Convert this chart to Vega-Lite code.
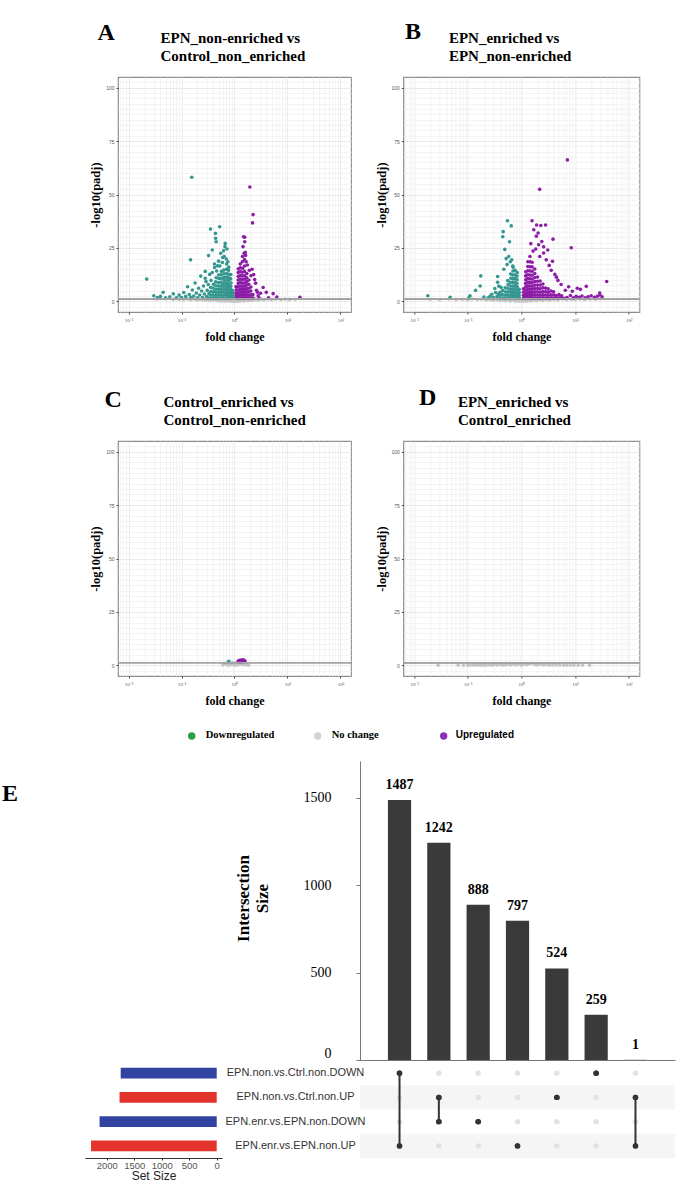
{
"$schema":"https://vega.github.io/schema/vega-lite/v6.json",
"background":"white",
"padding":{"left":2,"top":18,"right":5,"bottom":5},
"config":{"view":{"stroke":null},"font":"Liberation Sans"},
"datasets":{
"A":[
{"fc":0.035,"y":1.1,"g":"N"},{"fc":0.05,"y":1.2,"g":"N"},{"fc":0.07,"y":0.9,"g":"N"},{"fc":0.09,"y":1.0,"g":"N"},{"fc":0.11,"y":0.8,"g":"N"},{"fc":0.13,"y":1.1,"g":"N"},{"fc":0.15,"y":0.7,"g":"N"},{"fc":0.18,"y":0.9,"g":"N"},{"fc":0.2,"y":0.6,"g":"N"},{"fc":0.22,"y":1.0,"g":"N"},{"fc":0.25,"y":0.7,"g":"N"},{"fc":0.28,"y":0.5,"g":"N"},{"fc":0.3,"y":0.9,"g":"N"},{"fc":0.33,"y":0.6,"g":"N"},{"fc":0.36,"y":0.4,"g":"N"},{"fc":0.4,"y":0.8,"g":"N"},{"fc":0.44,"y":0.5,"g":"N"},{"fc":0.48,"y":0.3,"g":"N"},{"fc":0.52,"y":0.7,"g":"N"},{"fc":0.56,"y":0.2,"g":"N"},{"fc":0.6,"y":0.5,"g":"N"},{"fc":0.65,"y":0.1,"g":"N"},{"fc":0.7,"y":0.4,"g":"N"},{"fc":0.75,"y":0.2,"g":"N"},{"fc":0.8,"y":0.6,"g":"N"},{"fc":0.85,"y":0.1,"g":"N"},{"fc":0.9,"y":0.3,"g":"N"},{"fc":0.95,"y":0.05,"g":"N"},{"fc":1.0,"y":0.2,"g":"N"},{"fc":1.05,"y":0.1,"g":"N"},{"fc":1.1,"y":0.4,"g":"N"},{"fc":1.15,"y":0.05,"g":"N"},{"fc":1.2,"y":0.3,"g":"N"},{"fc":1.3,"y":0.15,"g":"N"},{"fc":1.4,"y":0.5,"g":"N"},{"fc":1.5,"y":0.2,"g":"N"},{"fc":1.65,"y":0.6,"g":"N"},{"fc":1.8,"y":0.3,"g":"N"},{"fc":2.0,"y":0.7,"g":"N"},{"fc":2.2,"y":0.4,"g":"N"},{"fc":2.5,"y":0.9,"g":"N"},{"fc":2.8,"y":0.5,"g":"N"},{"fc":3.2,"y":1.0,"g":"N"},{"fc":3.6,"y":0.6,"g":"N"},{"fc":4.2,"y":1.1,"g":"N"},{"fc":5,"y":0.7,"g":"N"},{"fc":6,"y":1.0,"g":"N"},{"fc":7.5,"y":0.8,"g":"N"},{"fc":9,"y":1.1,"g":"N"},{"fc":11,"y":0.9,"g":"N"},{"fc":14,"y":1.0,"g":"N"},{"fc":0.62,"y":0.9,"g":"N"},{"fc":0.72,"y":0.8,"g":"N"},{"fc":0.82,"y":1.0,"g":"N"},{"fc":0.92,"y":0.7,"g":"N"},{"fc":1.08,"y":0.8,"g":"N"},{"fc":1.25,"y":1.0,"g":"N"},{"fc":1.35,"y":0.9,"g":"N"},{"fc":0.5,"y":1.1,"g":"N"},{"fc":0.42,"y":1.2,"g":"N"},{"fc":1.6,"y":1.1,"g":"N"},{"fc":0.26,"y":1.2,"g":"N"},{"fc":0.16,"y":1.2,"g":"N"},
{"fc":0.94,"y":1.5,"g":"D"},{"fc":0.925,"y":2.5,"g":"D"},{"fc":0.935,"y":3.6,"g":"D"},{"fc":0.92,"y":5,"g":"D"},
{"fc":0.85,"y":1.6,"g":"D"},{"fc":0.86,"y":2.8,"g":"D"},{"fc":0.842,"y":4.1,"g":"D"},{"fc":0.855,"y":5.5,"g":"D"},{"fc":0.848,"y":7,"g":"D"},{"fc":0.862,"y":8.6,"g":"D"},{"fc":0.845,"y":10.5,"g":"D"},{"fc":0.852,"y":12.5,"g":"D"},
{"fc":0.78,"y":1.4,"g":"D"},{"fc":0.77,"y":2.6,"g":"D"},{"fc":0.783,"y":3.9,"g":"D"},{"fc":0.772,"y":5.2,"g":"D"},{"fc":0.779,"y":6.6,"g":"D"},{"fc":0.768,"y":8,"g":"D"},{"fc":0.781,"y":9.5,"g":"D"},{"fc":0.774,"y":11,"g":"D"},{"fc":0.786,"y":12.7,"g":"D"},{"fc":0.77,"y":14.5,"g":"D"},{"fc":0.778,"y":16,"g":"D"},
{"fc":0.71,"y":1.5,"g":"D"},{"fc":0.702,"y":2.9,"g":"D"},{"fc":0.715,"y":4.3,"g":"D"},{"fc":0.705,"y":5.6,"g":"D"},{"fc":0.712,"y":7.1,"g":"D"},{"fc":0.7,"y":8.4,"g":"D"},{"fc":0.718,"y":9.9,"g":"D"},{"fc":0.706,"y":11.3,"g":"D"},{"fc":0.713,"y":13,"g":"D"},{"fc":0.703,"y":15,"g":"D"},{"fc":0.709,"y":17.5,"g":"D"},
{"fc":0.635,"y":1.4,"g":"D"},{"fc":0.626,"y":2.7,"g":"D"},{"fc":0.638,"y":4,"g":"D"},{"fc":0.628,"y":5.4,"g":"D"},{"fc":0.633,"y":6.8,"g":"D"},{"fc":0.624,"y":8.2,"g":"D"},{"fc":0.637,"y":9.7,"g":"D"},{"fc":0.629,"y":11.2,"g":"D"},{"fc":0.634,"y":12.9,"g":"D"},{"fc":0.627,"y":14.6,"g":"D"},
{"fc":0.565,"y":1.6,"g":"D"},{"fc":0.557,"y":3,"g":"D"},{"fc":0.568,"y":4.4,"g":"D"},{"fc":0.56,"y":5.8,"g":"D"},{"fc":0.566,"y":7.3,"g":"D"},{"fc":0.555,"y":8.9,"g":"D"},{"fc":0.563,"y":10.6,"g":"D"},{"fc":0.558,"y":12.4,"g":"D"},{"fc":0.567,"y":14,"g":"D"},
{"fc":0.505,"y":1.5,"g":"D"},{"fc":0.497,"y":2.8,"g":"D"},{"fc":0.508,"y":4.2,"g":"D"},{"fc":0.499,"y":5.7,"g":"D"},{"fc":0.504,"y":7.2,"g":"D"},{"fc":0.496,"y":8.8,"g":"D"},{"fc":0.506,"y":10.7,"g":"D"},{"fc":0.5,"y":12.3,"g":"D"},
{"fc":0.45,"y":1.4,"g":"D"},{"fc":0.443,"y":2.7,"g":"D"},{"fc":0.452,"y":4.1,"g":"D"},{"fc":0.445,"y":5.6,"g":"D"},{"fc":0.449,"y":7.3,"g":"D"},{"fc":0.441,"y":9.1,"g":"D"},{"fc":0.451,"y":11,"g":"D"},
{"fc":0.4,"y":1.6,"g":"D"},{"fc":0.394,"y":3,"g":"D"},{"fc":0.403,"y":4.5,"g":"D"},{"fc":0.396,"y":6.2,"g":"D"},{"fc":0.401,"y":8,"g":"D"},
{"fc":0.357,"y":1.5,"g":"D"},{"fc":0.352,"y":2.9,"g":"D"},{"fc":0.359,"y":4.6,"g":"D"},{"fc":0.354,"y":6.5,"g":"D"},
{"fc":0.3,"y":2.2,"g":"D"},{"fc":0.305,"y":5.1,"g":"D"},{"fc":0.29,"y":9.3,"g":"D"},{"fc":0.27,"y":3.4,"g":"D"},{"fc":0.26,"y":7.2,"g":"D"},{"fc":0.25,"y":1.8,"g":"D"},{"fc":0.24,"y":4.8,"g":"D"},{"fc":0.23,"y":11.8,"g":"D"},{"fc":0.22,"y":2.9,"g":"D"},{"fc":0.21,"y":6.1,"g":"D"},{"fc":0.2,"y":1.7,"g":"D"},{"fc":0.19,"y":3.9,"g":"D"},{"fc":0.18,"y":8.6,"g":"D"},{"fc":0.17,"y":2.5,"g":"D"},{"fc":0.16,"y":5.3,"g":"D"},{"fc":0.15,"y":1.9,"g":"D"},{"fc":0.14,"y":3.2,"g":"D"},{"fc":0.13,"y":6.8,"g":"D"},{"fc":0.12,"y":2.3,"g":"D"},{"fc":0.11,"y":4.1,"g":"D"},{"fc":0.1,"y":1.8,"g":"D"},{"fc":0.09,"y":2.9,"g":"D"},{"fc":0.08,"y":1.6,"g":"D"},{"fc":0.07,"y":3.5,"g":"D"},{"fc":0.06,"y":2.1,"g":"D"},{"fc":0.05,"y":1.7,"g":"D"},{"fc":0.045,"y":4.2,"g":"D"},{"fc":0.04,"y":2.3,"g":"D"},{"fc":0.035,"y":1.8,"g":"D"},{"fc":0.03,"y":2.6,"g":"D"},
{"fc":0.33,"y":3.6,"g":"D"},{"fc":0.32,"y":7.9,"g":"D"},{"fc":0.31,"y":1.6,"g":"D"},{"fc":0.28,"y":10.8,"g":"D"},{"fc":0.34,"y":12.6,"g":"D"},{"fc":0.36,"y":9.8,"g":"D"},{"fc":0.38,"y":13.5,"g":"D"},{"fc":0.42,"y":15.8,"g":"D"},{"fc":0.46,"y":14.2,"g":"D"},{"fc":0.48,"y":16.6,"g":"D"},
{"fc":0.156,"y":58.1,"g":"D"},{"fc":0.352,"y":33.8,"g":"D"},{"fc":0.525,"y":34.9,"g":"D"},{"fc":0.437,"y":31.8,"g":"D"},{"fc":0.441,"y":29.5,"g":"D"},{"fc":0.45,"y":27.9,"g":"D"},{"fc":0.668,"y":27.1,"g":"D"},{"fc":0.66,"y":25.6,"g":"D"},{"fc":0.148,"y":19.4,"g":"D"},{"fc":0.022,"y":10.4,"g":"D"},{"fc":0.324,"y":21.4,"g":"D"},{"fc":0.38,"y":24,"g":"D"},{"fc":0.55,"y":22.5,"g":"D"},{"fc":0.6,"y":20.5,"g":"D"},{"fc":0.5,"y":18.8,"g":"D"},{"fc":0.42,"y":17.5,"g":"D"},{"fc":0.7,"y":19.8,"g":"D"},{"fc":0.28,"y":14,"g":"D"},{"fc":0.62,"y":23.7,"g":"D"},{"fc":0.64,"y":21,"g":"D"},{"fc":0.72,"y":24.5,"g":"D"},{"fc":0.59,"y":18.2,"g":"D"},{"fc":0.53,"y":16.5,"g":"D"},{"fc":0.75,"y":18.5,"g":"D"},
{"fc":1.07,"y":1.5,"g":"U"},{"fc":1.075,"y":2.7,"g":"U"},{"fc":1.068,"y":4,"g":"U"},{"fc":1.078,"y":5.4,"g":"U"},{"fc":1.072,"y":6.9,"g":"U"},
{"fc":1.17,"y":1.4,"g":"U"},{"fc":1.18,"y":2.6,"g":"U"},{"fc":1.172,"y":3.9,"g":"U"},{"fc":1.183,"y":5.3,"g":"U"},{"fc":1.168,"y":6.8,"g":"U"},{"fc":1.178,"y":8.4,"g":"U"},{"fc":1.171,"y":10,"g":"U"},{"fc":1.181,"y":11.7,"g":"U"},{"fc":1.174,"y":13.5,"g":"U"},{"fc":1.177,"y":15.2,"g":"U"},
{"fc":1.285,"y":1.6,"g":"U"},{"fc":1.292,"y":2.9,"g":"U"},{"fc":1.28,"y":4.3,"g":"U"},{"fc":1.295,"y":5.7,"g":"U"},{"fc":1.283,"y":7.2,"g":"U"},{"fc":1.29,"y":8.8,"g":"U"},{"fc":1.282,"y":10.4,"g":"U"},{"fc":1.294,"y":12.1,"g":"U"},{"fc":1.286,"y":13.9,"g":"U"},{"fc":1.291,"y":15.7,"g":"U"},{"fc":1.284,"y":17.5,"g":"U"},
{"fc":1.41,"y":1.5,"g":"U"},{"fc":1.418,"y":2.8,"g":"U"},{"fc":1.405,"y":4.2,"g":"U"},{"fc":1.42,"y":5.6,"g":"U"},{"fc":1.408,"y":7.1,"g":"U"},{"fc":1.415,"y":8.6,"g":"U"},{"fc":1.407,"y":10.2,"g":"U"},{"fc":1.419,"y":11.9,"g":"U"},{"fc":1.411,"y":13.6,"g":"U"},{"fc":1.416,"y":15.5,"g":"U"},{"fc":1.409,"y":18.5,"g":"U"},{"fc":1.414,"y":21,"g":"U"},
{"fc":1.545,"y":1.4,"g":"U"},{"fc":1.553,"y":2.7,"g":"U"},{"fc":1.54,"y":4.1,"g":"U"},{"fc":1.556,"y":5.5,"g":"U"},{"fc":1.543,"y":7,"g":"U"},{"fc":1.551,"y":8.6,"g":"U"},{"fc":1.547,"y":10.3,"g":"U"},{"fc":1.555,"y":12,"g":"U"},{"fc":1.542,"y":14,"g":"U"},{"fc":1.55,"y":16.5,"g":"U"},{"fc":1.546,"y":19.5,"g":"U"},
{"fc":1.695,"y":1.6,"g":"U"},{"fc":1.703,"y":3,"g":"U"},{"fc":1.69,"y":4.4,"g":"U"},{"fc":1.706,"y":6,"g":"U"},{"fc":1.693,"y":7.6,"g":"U"},{"fc":1.7,"y":9.3,"g":"U"},{"fc":1.697,"y":11,"g":"U"},{"fc":1.704,"y":13,"g":"U"},
{"fc":1.86,"y":1.5,"g":"U"},{"fc":1.868,"y":2.9,"g":"U"},{"fc":1.855,"y":4.4,"g":"U"},{"fc":1.865,"y":6.1,"g":"U"},{"fc":1.858,"y":8,"g":"U"},{"fc":1.863,"y":10,"g":"U"},
{"fc":2.04,"y":1.6,"g":"U"},{"fc":2.048,"y":3.1,"g":"U"},{"fc":2.035,"y":4.8,"g":"U"},{"fc":2.045,"y":6.7,"g":"U"},
{"fc":2.24,"y":1.5,"g":"U"},{"fc":2.23,"y":3.2,"g":"U"},
{"fc":3.47,"y":6.5,"g":"U"},{"fc":3.98,"y":4.2,"g":"U"},{"fc":5.37,"y":3.6,"g":"U"},{"fc":6.3,"y":2,"g":"U"},{"fc":17.2,"y":1.9,"g":"U"},{"fc":2.6,"y":5.2,"g":"U"},{"fc":2.8,"y":2.6,"g":"U"},{"fc":3.1,"y":3.8,"g":"U"},{"fc":2.9,"y":1.7,"g":"U"},{"fc":4.4,"y":1.6,"g":"U"},{"fc":2.5,"y":8.5,"g":"U"},{"fc":2.7,"y":4.3,"g":"U"},{"fc":2.4,"y":10.2,"g":"U"},{"fc":2.3,"y":12.5,"g":"U"},{"fc":2.15,"y":15,"g":"U"},
{"fc":1.95,"y":53.5,"g":"U"},{"fc":2.24,"y":40.6,"g":"U"},{"fc":2.19,"y":36.7,"g":"U"},{"fc":1.48,"y":30.2,"g":"U"},{"fc":1.56,"y":30,"g":"U"},{"fc":1.56,"y":27.9,"g":"U"},{"fc":1.52,"y":22.5,"g":"U"},{"fc":1.6,"y":23,"g":"U"},{"fc":1.45,"y":25.6,"g":"U"},{"fc":1.62,"y":21.5,"g":"U"},{"fc":1.66,"y":18.5,"g":"U"},{"fc":1.75,"y":17,"g":"U"},{"fc":1.9,"y":14.5,"g":"U"},{"fc":2.05,"y":12,"g":"U"}
],
"B":[
{"fc":0.02,"y":1.0,"g":"N"},{"fc":0.03,"y":0.8,"g":"N"},{"fc":0.045,"y":1.1,"g":"N"},{"fc":0.06,"y":0.9,"g":"N"},{"fc":0.08,"y":1.0,"g":"N"},{"fc":0.1,"y":0.7,"g":"N"},{"fc":0.12,"y":1.1,"g":"N"},{"fc":0.15,"y":0.8,"g":"N"},{"fc":0.18,"y":1.0,"g":"N"},{"fc":0.22,"y":0.6,"g":"N"},{"fc":0.26,"y":0.9,"g":"N"},{"fc":0.3,"y":0.5,"g":"N"},{"fc":0.35,"y":0.8,"g":"N"},{"fc":0.4,"y":0.4,"g":"N"},{"fc":0.45,"y":0.7,"g":"N"},{"fc":0.5,"y":0.3,"g":"N"},{"fc":0.56,"y":0.6,"g":"N"},{"fc":0.62,"y":0.2,"g":"N"},{"fc":0.7,"y":0.5,"g":"N"},{"fc":0.78,"y":0.1,"g":"N"},{"fc":0.85,"y":0.4,"g":"N"},{"fc":0.92,"y":0.05,"g":"N"},{"fc":1.0,"y":0.3,"g":"N"},{"fc":1.08,"y":0.1,"g":"N"},{"fc":1.15,"y":0.5,"g":"N"},{"fc":1.25,"y":0.05,"g":"N"},{"fc":1.35,"y":0.4,"g":"N"},{"fc":1.5,"y":0.2,"g":"N"},{"fc":1.7,"y":0.6,"g":"N"},{"fc":1.9,"y":0.3,"g":"N"},{"fc":2.2,"y":0.7,"g":"N"},{"fc":2.5,"y":0.4,"g":"N"},{"fc":2.9,"y":0.9,"g":"N"},{"fc":3.4,"y":0.5,"g":"N"},{"fc":4,"y":1.0,"g":"N"},{"fc":4.8,"y":0.6,"g":"N"},{"fc":5.8,"y":1.1,"g":"N"},{"fc":7,"y":0.8,"g":"N"},{"fc":8.5,"y":1.0,"g":"N"},{"fc":10,"y":0.9,"g":"N"},{"fc":12.5,"y":1.1,"g":"N"},{"fc":15,"y":0.9,"g":"N"},{"fc":19,"y":1.1,"g":"N"},{"fc":24,"y":1.0,"g":"N"},{"fc":30,"y":1.2,"g":"N"},{"fc":0.65,"y":1.0,"g":"N"},{"fc":0.75,"y":0.9,"g":"N"},{"fc":0.88,"y":1.1,"g":"N"},{"fc":0.96,"y":0.8,"g":"N"},{"fc":1.05,"y":1.0,"g":"N"},{"fc":1.2,"y":0.9,"g":"N"},{"fc":1.4,"y":1.1,"g":"N"},{"fc":0.55,"y":1.1,"g":"N"},{"fc":1.6,"y":1.0,"g":"N"},{"fc":0.48,"y":1.2,"g":"N"},{"fc":2.0,"y":1.2,"g":"N"},
{"fc":0.915,"y":1.5,"g":"D"},{"fc":0.905,"y":2.7,"g":"D"},{"fc":0.918,"y":4.1,"g":"D"},{"fc":0.908,"y":5.6,"g":"D"},
{"fc":0.835,"y":1.4,"g":"D"},{"fc":0.828,"y":2.6,"g":"D"},{"fc":0.838,"y":3.9,"g":"D"},{"fc":0.83,"y":5.3,"g":"D"},{"fc":0.836,"y":6.8,"g":"D"},{"fc":0.826,"y":8.4,"g":"D"},{"fc":0.834,"y":10.1,"g":"D"},{"fc":0.829,"y":11.8,"g":"D"},{"fc":0.837,"y":13.5,"g":"D"},
{"fc":0.762,"y":1.6,"g":"D"},{"fc":0.755,"y":2.9,"g":"D"},{"fc":0.765,"y":4.3,"g":"D"},{"fc":0.757,"y":5.8,"g":"D"},{"fc":0.763,"y":7.3,"g":"D"},{"fc":0.753,"y":8.9,"g":"D"},{"fc":0.761,"y":10.6,"g":"D"},{"fc":0.756,"y":12.4,"g":"D"},{"fc":0.764,"y":14.5,"g":"D"},
{"fc":0.695,"y":1.5,"g":"D"},{"fc":0.688,"y":2.8,"g":"D"},{"fc":0.698,"y":4.2,"g":"D"},{"fc":0.69,"y":5.7,"g":"D"},{"fc":0.696,"y":7.2,"g":"D"},{"fc":0.686,"y":8.8,"g":"D"},{"fc":0.694,"y":10.5,"g":"D"},{"fc":0.689,"y":12.3,"g":"D"},{"fc":0.697,"y":14.2,"g":"D"},{"fc":0.691,"y":16.5,"g":"D"},
{"fc":0.635,"y":1.4,"g":"D"},{"fc":0.627,"y":2.7,"g":"D"},{"fc":0.637,"y":4.1,"g":"D"},{"fc":0.629,"y":5.6,"g":"D"},{"fc":0.633,"y":7.2,"g":"D"},{"fc":0.625,"y":8.9,"g":"D"},{"fc":0.636,"y":10.8,"g":"D"},{"fc":0.63,"y":12.8,"g":"D"},
{"fc":0.565,"y":1.6,"g":"D"},{"fc":0.557,"y":3,"g":"D"},{"fc":0.567,"y":4.5,"g":"D"},{"fc":0.559,"y":6.1,"g":"D"},{"fc":0.564,"y":7.8,"g":"D"},{"fc":0.556,"y":9.7,"g":"D"},
{"fc":0.505,"y":1.5,"g":"D"},{"fc":0.497,"y":2.9,"g":"D"},{"fc":0.507,"y":4.5,"g":"D"},{"fc":0.499,"y":6.3,"g":"D"},
{"fc":0.45,"y":1.6,"g":"D"},{"fc":0.443,"y":3.2,"g":"D"},{"fc":0.448,"y":5,"g":"D"},
{"fc":0.4,"y":1.5,"g":"D"},{"fc":0.395,"y":2.8,"g":"D"},
{"fc":0.35,"y":2.2,"g":"D"},{"fc":0.33,"y":4.1,"g":"D"},{"fc":0.3,"y":1.8,"g":"D"},{"fc":0.28,"y":3.3,"g":"D"},{"fc":0.26,"y":2.4,"g":"D"},{"fc":0.24,"y":1.6,"g":"D"},{"fc":0.2,"y":2.0,"g":"D"},{"fc":0.17,"y":7.2,"g":"D"},{"fc":0.14,"y":5.1,"g":"D"},{"fc":0.11,"y":2.6,"g":"D"},{"fc":0.105,"y":1.6,"g":"D"},{"fc":0.047,"y":1.9,"g":"D"},{"fc":0.018,"y":2.6,"g":"D"},{"fc":0.36,"y":8.9,"g":"D"},{"fc":0.38,"y":7.1,"g":"D"},{"fc":0.42,"y":6.5,"g":"D"},{"fc":0.175,"y":11.9,"g":"D"},{"fc":0.32,"y":6,"g":"D"},{"fc":0.4,"y":4.2,"g":"D"},{"fc":0.37,"y":3.4,"g":"D"},
{"fc":0.55,"y":37.7,"g":"D"},{"fc":0.457,"y":32.6,"g":"D"},{"fc":0.646,"y":35.3,"g":"D"},{"fc":0.45,"y":30.2,"g":"D"},{"fc":0.6,"y":27.9,"g":"D"},{"fc":0.49,"y":24.3,"g":"D"},{"fc":0.36,"y":11.6,"g":"D"},{"fc":0.52,"y":20,"g":"D"},{"fc":0.58,"y":21,"g":"D"},{"fc":0.62,"y":18.5,"g":"D"},{"fc":0.66,"y":19.4,"g":"D"},{"fc":0.54,"y":17.2,"g":"D"},{"fc":0.7,"y":16,"g":"D"},{"fc":0.47,"y":15,"g":"D"},
{"fc":1.1,"y":1.5,"g":"U"},{"fc":1.092,"y":2.8,"g":"U"},{"fc":1.098,"y":4.3,"g":"U"},{"fc":1.094,"y":5.9,"g":"U"},
{"fc":1.205,"y":1.4,"g":"U"},{"fc":1.198,"y":2.6,"g":"U"},{"fc":1.208,"y":3.9,"g":"U"},{"fc":1.2,"y":5.3,"g":"U"},{"fc":1.206,"y":6.8,"g":"U"},{"fc":1.196,"y":8.4,"g":"U"},{"fc":1.204,"y":10.1,"g":"U"},{"fc":1.199,"y":11.9,"g":"U"},{"fc":1.207,"y":13.8,"g":"U"},
{"fc":1.32,"y":1.6,"g":"U"},{"fc":1.312,"y":2.9,"g":"U"},{"fc":1.325,"y":4.3,"g":"U"},{"fc":1.315,"y":5.8,"g":"U"},{"fc":1.322,"y":7.3,"g":"U"},{"fc":1.31,"y":8.9,"g":"U"},{"fc":1.318,"y":10.6,"g":"U"},{"fc":1.313,"y":12.4,"g":"U"},{"fc":1.323,"y":14.3,"g":"U"},{"fc":1.316,"y":16.3,"g":"U"},{"fc":1.32,"y":18.5,"g":"U"},
{"fc":1.448,"y":1.5,"g":"U"},{"fc":1.44,"y":2.8,"g":"U"},{"fc":1.452,"y":4.2,"g":"U"},{"fc":1.442,"y":5.7,"g":"U"},{"fc":1.45,"y":7.2,"g":"U"},{"fc":1.438,"y":8.8,"g":"U"},{"fc":1.447,"y":10.5,"g":"U"},{"fc":1.441,"y":12.3,"g":"U"},{"fc":1.451,"y":14.2,"g":"U"},{"fc":1.444,"y":16.2,"g":"U"},{"fc":1.449,"y":18.5,"g":"U"},{"fc":1.443,"y":21,"g":"U"},
{"fc":1.59,"y":1.4,"g":"U"},{"fc":1.58,"y":2.7,"g":"U"},{"fc":1.594,"y":4.1,"g":"U"},{"fc":1.583,"y":5.6,"g":"U"},{"fc":1.588,"y":7.1,"g":"U"},{"fc":1.578,"y":8.7,"g":"U"},{"fc":1.591,"y":10.4,"g":"U"},{"fc":1.582,"y":12.2,"g":"U"},{"fc":1.589,"y":14.1,"g":"U"},{"fc":1.584,"y":16.1,"g":"U"},{"fc":1.587,"y":18.3,"g":"U"},
{"fc":1.78,"y":1.6,"g":"U"},{"fc":1.77,"y":3,"g":"U"},{"fc":1.785,"y":4.5,"g":"U"},{"fc":1.774,"y":6,"g":"U"},{"fc":1.781,"y":7.6,"g":"U"},{"fc":1.772,"y":9.3,"g":"U"},{"fc":1.783,"y":11.1,"g":"U"},{"fc":1.776,"y":13,"g":"U"},{"fc":1.779,"y":15.1,"g":"U"},
{"fc":2,"y":1.5,"g":"U"},{"fc":1.99,"y":2.9,"g":"U"},{"fc":2.005,"y":4.4,"g":"U"},{"fc":1.992,"y":6,"g":"U"},{"fc":2.002,"y":7.6,"g":"U"},{"fc":1.995,"y":9.4,"g":"U"},{"fc":2.003,"y":11.4,"g":"U"},
{"fc":2.24,"y":1.4,"g":"U"},{"fc":2.23,"y":2.8,"g":"U"},{"fc":2.245,"y":4.3,"g":"U"},{"fc":2.234,"y":5.9,"g":"U"},{"fc":2.241,"y":7.6,"g":"U"},{"fc":2.236,"y":9.5,"g":"U"},
{"fc":2.51,"y":1.6,"g":"U"},{"fc":2.5,"y":3,"g":"U"},{"fc":2.52,"y":4.6,"g":"U"},{"fc":2.505,"y":6.3,"g":"U"},{"fc":2.515,"y":8.1,"g":"U"},
{"fc":2.82,"y":1.5,"g":"U"},{"fc":2.81,"y":2.9,"g":"U"},{"fc":2.83,"y":4.5,"g":"U"},{"fc":2.815,"y":6.2,"g":"U"},
{"fc":3.16,"y":1.4,"g":"U"},{"fc":3.15,"y":2.7,"g":"U"},{"fc":3.17,"y":4.2,"g":"U"},{"fc":3.155,"y":5.8,"g":"U"},
{"fc":3.55,"y":1.6,"g":"U"},{"fc":3.54,"y":3.1,"g":"U"},{"fc":3.56,"y":4.8,"g":"U"},
{"fc":3.98,"y":1.5,"g":"U"},{"fc":3.97,"y":2.9,"g":"U"},{"fc":3.99,"y":4.4,"g":"U"},
{"fc":4.47,"y":1.4,"g":"U"},{"fc":4.46,"y":2.7,"g":"U"},{"fc":5.01,"y":1.6,"g":"U"},{"fc":5.02,"y":3.2,"g":"U"},{"fc":5.62,"y":1.5,"g":"U"},{"fc":5.63,"y":2.6,"g":"U"},{"fc":6.31,"y":1.4,"g":"U"},
{"fc":7.1,"y":1.8,"g":"U"},{"fc":8.2,"y":2.7,"g":"U"},{"fc":9.3,"y":1.6,"g":"U"},{"fc":10.5,"y":2.3,"g":"U"},{"fc":12,"y":1.9,"g":"U"},{"fc":13.5,"y":2.5,"g":"U"},{"fc":15.5,"y":1.7,"g":"U"},{"fc":17.5,"y":2.1,"g":"U"},{"fc":20,"y":2.6,"g":"U"},{"fc":23,"y":1.9,"g":"U"},{"fc":26,"y":2.4,"g":"U"},{"fc":29,"y":3,"g":"U"},{"fc":32,"y":2.1,"g":"U"},{"fc":38.9,"y":9.3,"g":"U"},{"fc":16.2,"y":7,"g":"U"},{"fc":28.8,"y":3.9,"g":"U"},{"fc":12.6,"y":5.6,"g":"U"},{"fc":11,"y":6.1,"g":"U"},{"fc":8.9,"y":4.7,"g":"U"},{"fc":7.6,"y":6.8,"g":"U"},{"fc":6.6,"y":5.2,"g":"U"},{"fc":5.5,"y":7.9,"g":"U"},{"fc":4.8,"y":9.8,"g":"U"},{"fc":4.2,"y":12.6,"g":"U"},{"fc":3.6,"y":14.5,"g":"U"},{"fc":3.3,"y":16.8,"g":"U"},{"fc":2.9,"y":19.4,"g":"U"},{"fc":2.6,"y":22.6,"g":"U"},{"fc":3.8,"y":18.7,"g":"U"},{"fc":4.5,"y":11.3,"g":"U"},
{"fc":7.19,"y":66.2,"g":"U"},{"fc":2.19,"y":52.4,"g":"U"},{"fc":1.58,"y":37.7,"g":"U"},{"fc":1.92,"y":35.7,"g":"U"},{"fc":2.82,"y":35.7,"g":"U"},{"fc":2.3,"y":35.5,"g":"U"},{"fc":1.7,"y":33.5,"g":"U"},{"fc":2.05,"y":32,"g":"U"},{"fc":3.89,"y":29.1,"g":"U"},{"fc":8.5,"y":25.1,"g":"U"},{"fc":1.9,"y":30.5,"g":"U"},{"fc":2.4,"y":28,"g":"U"},{"fc":2.1,"y":26.5,"g":"U"},{"fc":3.1,"y":24,"g":"U"},{"fc":2.6,"y":25.5,"g":"U"},{"fc":1.5,"y":27,"g":"U"},{"fc":1.65,"y":23.5,"g":"U"},{"fc":1.85,"y":24.5,"g":"U"},{"fc":2.2,"y":21,"g":"U"}
],
"C":[
{"fc":0.6,"y":0.2,"g":"N"},{"fc":0.68,"y":0.5,"g":"N"},{"fc":0.75,"y":0.1,"g":"N"},{"fc":0.8,"y":0.7,"g":"N"},{"fc":0.85,"y":0.3,"g":"N"},{"fc":0.9,"y":0.9,"g":"N"},{"fc":0.95,"y":0.4,"g":"N"},{"fc":1.0,"y":1.1,"g":"N"},{"fc":1.05,"y":0.6,"g":"N"},{"fc":1.1,"y":0.9,"g":"N"},{"fc":1.15,"y":0.2,"g":"N"},{"fc":1.2,"y":1.0,"g":"N"},{"fc":1.28,"y":0.5,"g":"N"},{"fc":1.35,"y":0.8,"g":"N"},{"fc":1.45,"y":0.3,"g":"N"},{"fc":1.55,"y":0.6,"g":"N"},{"fc":1.7,"y":0.2,"g":"N"},{"fc":1.85,"y":0.1,"g":"N"},{"fc":0.92,"y":1.2,"g":"N"},{"fc":1.02,"y":0.05,"g":"N"},{"fc":0.7,"y":0.9,"g":"N"},{"fc":1.12,"y":1.2,"g":"N"},{"fc":1.4,"y":1.1,"g":"N"},
{"fc":0.78,"y":1.9,"g":"D"},
{"fc":1.17,"y":2.0,"g":"U"},{"fc":1.25,"y":2.4,"g":"U"},{"fc":1.3,"y":2.1,"g":"U"},{"fc":1.38,"y":2.6,"g":"U"},{"fc":1.45,"y":2.2,"g":"U"},{"fc":1.58,"y":2.0,"g":"U"},{"fc":1.22,"y":1.7,"g":"U"},{"fc":1.33,"y":1.6,"g":"U"},{"fc":1.5,"y":2.5,"g":"U"}
],
"D":[
{"fc":0.028,"y":0.05,"g":"N"},{"fc":0.066,"y":0.1,"g":"N"},{"fc":0.083,"y":0.05,"g":"N"},{"fc":0.1,"y":0.1,"g":"N"},{"fc":0.11,"y":0.02,"g":"N"},{"fc":0.125,"y":0.15,"g":"N"},{"fc":0.14,"y":0.05,"g":"N"},{"fc":0.16,"y":0.2,"g":"N"},{"fc":0.18,"y":0.08,"g":"N"},{"fc":0.2,"y":0.12,"g":"N"},{"fc":0.22,"y":0.03,"g":"N"},{"fc":0.25,"y":0.18,"g":"N"},{"fc":0.28,"y":0.06,"g":"N"},{"fc":0.31,"y":0.25,"g":"N"},{"fc":0.35,"y":0.1,"g":"N"},{"fc":0.4,"y":0.3,"g":"N"},{"fc":0.45,"y":0.05,"g":"N"},{"fc":0.5,"y":0.2,"g":"N"},{"fc":0.52,"y":0.9,"g":"N"},{"fc":0.56,"y":0.4,"g":"N"},{"fc":0.63,"y":0.12,"g":"N"},{"fc":0.7,"y":0.35,"g":"N"},{"fc":0.8,"y":0.2,"g":"N"},{"fc":0.9,"y":0.5,"g":"N"},{"fc":1.0,"y":0.1,"g":"N"},{"fc":1.1,"y":0.45,"g":"N"},{"fc":1.25,"y":0.25,"g":"N"},{"fc":1.4,"y":0.6,"g":"N"},{"fc":1.6,"y":1.0,"g":"N"},{"fc":1.8,"y":0.3,"g":"N"},{"fc":2.0,"y":0.15,"g":"N"},{"fc":2.3,"y":0.4,"g":"N"},{"fc":2.6,"y":0.1,"g":"N"},{"fc":3.0,"y":0.25,"g":"N"},{"fc":3.4,"y":0.05,"g":"N"},{"fc":3.9,"y":0.2,"g":"N"},{"fc":4.5,"y":0.1,"g":"N"},{"fc":5.2,"y":0.15,"g":"N"},{"fc":6.1,"y":0.05,"g":"N"},{"fc":7.0,"y":0.1,"g":"N"},{"fc":8.1,"y":0.03,"g":"N"},{"fc":9.5,"y":0.08,"g":"N"},{"fc":11.5,"y":0.05,"g":"N"},{"fc":13.8,"y":0.02,"g":"N"},{"fc":18.6,"y":0.05,"g":"N"}
],
"sets":[{"set":"EPN.non.vs.Ctrl.non.DOWN","size":1746},{"set":"EPN.non.vs.Ctrl.non.UP","size":1767},{"set":"EPN.enr.vs.EPN.non.DOWN","size":2130},{"set":"EPN.enr.vs.EPN.non.UP","size":2285}],
"bars":[{"col":"c1","n":1487},{"col":"c2","n":1242},{"col":"c3","n":888},{"col":"c4","n":797},{"col":"c5","n":524},{"col":"c6","n":259},{"col":"c7","n":1}],
"cells":[
{"col":"c1","set":"EPN.non.vs.Ctrl.non.DOWN","in":1},{"col":"c1","set":"EPN.non.vs.Ctrl.non.UP","in":0},{"col":"c1","set":"EPN.enr.vs.EPN.non.DOWN","in":0},{"col":"c1","set":"EPN.enr.vs.EPN.non.UP","in":1},
{"col":"c2","set":"EPN.non.vs.Ctrl.non.DOWN","in":0},{"col":"c2","set":"EPN.non.vs.Ctrl.non.UP","in":1},{"col":"c2","set":"EPN.enr.vs.EPN.non.DOWN","in":1},{"col":"c2","set":"EPN.enr.vs.EPN.non.UP","in":0},
{"col":"c3","set":"EPN.non.vs.Ctrl.non.DOWN","in":0},{"col":"c3","set":"EPN.non.vs.Ctrl.non.UP","in":0},{"col":"c3","set":"EPN.enr.vs.EPN.non.DOWN","in":1},{"col":"c3","set":"EPN.enr.vs.EPN.non.UP","in":0},
{"col":"c4","set":"EPN.non.vs.Ctrl.non.DOWN","in":0},{"col":"c4","set":"EPN.non.vs.Ctrl.non.UP","in":0},{"col":"c4","set":"EPN.enr.vs.EPN.non.DOWN","in":0},{"col":"c4","set":"EPN.enr.vs.EPN.non.UP","in":1},
{"col":"c5","set":"EPN.non.vs.Ctrl.non.DOWN","in":0},{"col":"c5","set":"EPN.non.vs.Ctrl.non.UP","in":1},{"col":"c5","set":"EPN.enr.vs.EPN.non.DOWN","in":0},{"col":"c5","set":"EPN.enr.vs.EPN.non.UP","in":0},
{"col":"c6","set":"EPN.non.vs.Ctrl.non.DOWN","in":1},{"col":"c6","set":"EPN.non.vs.Ctrl.non.UP","in":0},{"col":"c6","set":"EPN.enr.vs.EPN.non.DOWN","in":0},{"col":"c6","set":"EPN.enr.vs.EPN.non.UP","in":0},
{"col":"c7","set":"EPN.non.vs.Ctrl.non.DOWN","in":0},{"col":"c7","set":"EPN.non.vs.Ctrl.non.UP","in":1},{"col":"c7","set":"EPN.enr.vs.EPN.non.DOWN","in":0},{"col":"c7","set":"EPN.enr.vs.EPN.non.UP","in":1}
],
"links":[{"col":"c1","a":"EPN.non.vs.Ctrl.non.DOWN","b":"EPN.enr.vs.EPN.non.UP"},{"col":"c2","a":"EPN.non.vs.Ctrl.non.UP","b":"EPN.enr.vs.EPN.non.DOWN"},{"col":"c7","a":"EPN.non.vs.Ctrl.non.UP","b":"EPN.enr.vs.EPN.non.UP"}]
},
"resolve":{"scale":{"color":"independent"}},
"spacing":0,
"vconcat":[
{"spacing":0,"hconcat":[
 {"width":1,"height":235,"data":{"values":[{}]},"mark":{"type":"point","opacity":0},"encoding":{}},
 {"spacing":21.4,"hconcat":[
 {"width":233,"height":235,"view":{"stroke":"#8c8c8c","strokeWidth":1.2},"data":{"name":"A"},
  "layer":[
   {"mark":{"type":"circle","size":13,"opacity":1},
    "encoding":{
     "x":{"field":"fc","type":"quantitative","scale":{"type":"log","domain":[0.00631,158.5],"nice":false},"axis":{"title":"fold change","titleFont":"Liberation Serif","titleFontSize":12,"titleFontWeight":"bold","titleColor":"black","titlePadding":9,"values":[0.007,0.008,0.009,0.01,0.02,0.03,0.04,0.05,0.06,0.07,0.08,0.09,0.1,0.2,0.3,0.4,0.5,0.6,0.7,0.8,0.9,1,2,3,4,5,6,7,8,9,10,20,30,40,50,60,70,80,90,100,150],"labelExpr":"datum.value == 0.01 ? '10⁻²' : datum.value == 0.1 ? '10⁻¹' : datum.value == 1 ? '10⁰' : datum.value == 10 ? '10¹' : datum.value == 100 ? '10²' : ''","labelFont":"Liberation Serif","labelFontSize":5,"labelColor":"#555555","labelPadding":3,"labelOverlap":false,"labelFlush":false,"tickSize":2,"tickColor":"#444444","tickOpacity":{"condition":{"test":"indexof([0.01,0.1,1,10,100], datum.value) >= 0","value":1},"value":0},"domain":false,"grid":true,"gridColor":{"condition":{"test":"indexof([0.01,0.1,1,10,100], datum.value) >= 0","value":"#e2e2e2"},"value":"#efefef"},"gridWidth":0.7}},
     "y":{"field":"y","type":"quantitative","scale":{"domain":[-5,105],"nice":false,"zero":false},"axis":{"title":"-log10(padj)","titleFont":"Liberation Serif","titleFontSize":12.5,"titleFontWeight":"bold","titleColor":"black","titlePadding":3,"values":[-2.5,0,2.5,5,7.5,10,12.5,15,17.5,20,22.5,25,27.5,30,32.5,35,37.5,40,42.5,45,47.5,50,52.5,55,57.5,60,62.5,65,67.5,70,72.5,75,77.5,80,82.5,85,87.5,90,92.5,95,97.5,100,102.5],"labelExpr":"datum.value % 25 == 0 ? datum.label : ''","labelFont":"Liberation Sans","labelFontSize":5,"labelColor":"#555555","labelPadding":2,"labelOverlap":false,"tickSize":2,"tickColor":"#444444","tickOpacity":{"condition":{"test":"datum.value % 25 == 0","value":1},"value":0},"domain":false,"grid":true,"gridColor":{"condition":{"test":"datum.value % 25 == 0","value":"#e2e2e2"},"value":"#efefef"},"gridWidth":0.7}},
     "color":{"field":"g","type":"nominal","scale":{"domain":["D","N","U"],"range":["#33968F","#C4C4C4","#8C1DA6"]},"legend":null}}},
   {"mark":{"type":"rule","color":"#a6a6a6","strokeWidth":1},"encoding":{"y":{"datum":1.301,"type":"quantitative","axis":{"orient":"left","title":"A","titleAngle":0,"titleX":-21,"titleY":-38,"titleAlign":"left","titleBaseline":"alphabetic","titleFont":"Liberation Serif","titleFontSize":24,"titleFontWeight":"bold","titleColor":"black","labels":false,"ticks":false,"domain":false,"grid":false}}}},
   {"data":{"values":[]},"mark":{"type":"point"},"encoding":{"x":{"datum":1,"type":"quantitative","axis":{"orient":"top","title":["EPN_non-enriched vs","Control_non_enriched"],"titleX":42,"titleY":-34.3,"titleAlign":"left","titleBaseline":"alphabetic","titleAngle":0,"titleFont":"Liberation Serif","titleFontSize":15,"titleFontWeight":"bold","titleColor":"black","titleLineHeight":17.6,"labels":false,"ticks":false,"domain":false,"grid":false}}}}
  ],
  "resolve":{"axis":{"x":"independent","y":"independent"}}},
 {"width":236,"height":235,"view":{"stroke":"#8c8c8c","strokeWidth":1.2},"data":{"name":"B"},
  "layer":[
   {"mark":{"type":"circle","size":13,"opacity":1},
    "encoding":{
     "x":{"field":"fc","type":"quantitative","scale":{"type":"log","domain":[0.00631,158.5],"nice":false},"axis":{"title":"fold change","titleFont":"Liberation Serif","titleFontSize":12,"titleFontWeight":"bold","titleColor":"black","titlePadding":9,"values":[0.007,0.008,0.009,0.01,0.02,0.03,0.04,0.05,0.06,0.07,0.08,0.09,0.1,0.2,0.3,0.4,0.5,0.6,0.7,0.8,0.9,1,2,3,4,5,6,7,8,9,10,20,30,40,50,60,70,80,90,100,150],"labelExpr":"datum.value == 0.01 ? '10⁻²' : datum.value == 0.1 ? '10⁻¹' : datum.value == 1 ? '10⁰' : datum.value == 10 ? '10¹' : datum.value == 100 ? '10²' : ''","labelFont":"Liberation Serif","labelFontSize":5,"labelColor":"#555555","labelPadding":3,"labelOverlap":false,"labelFlush":false,"tickSize":2,"tickColor":"#444444","tickOpacity":{"condition":{"test":"indexof([0.01,0.1,1,10,100], datum.value) >= 0","value":1},"value":0},"domain":false,"grid":true,"gridColor":{"condition":{"test":"indexof([0.01,0.1,1,10,100], datum.value) >= 0","value":"#e2e2e2"},"value":"#efefef"},"gridWidth":0.7}},
     "y":{"field":"y","type":"quantitative","scale":{"domain":[-5,105],"nice":false,"zero":false},"axis":{"title":"-log10(padj)","titleFont":"Liberation Serif","titleFontSize":12.5,"titleFontWeight":"bold","titleColor":"black","titlePadding":3,"values":[-2.5,0,2.5,5,7.5,10,12.5,15,17.5,20,22.5,25,27.5,30,32.5,35,37.5,40,42.5,45,47.5,50,52.5,55,57.5,60,62.5,65,67.5,70,72.5,75,77.5,80,82.5,85,87.5,90,92.5,95,97.5,100,102.5],"labelExpr":"datum.value % 25 == 0 ? datum.label : ''","labelFont":"Liberation Sans","labelFontSize":5,"labelColor":"#555555","labelPadding":2,"labelOverlap":false,"tickSize":2,"tickColor":"#444444","tickOpacity":{"condition":{"test":"datum.value % 25 == 0","value":1},"value":0},"domain":false,"grid":true,"gridColor":{"condition":{"test":"datum.value % 25 == 0","value":"#e2e2e2"},"value":"#efefef"},"gridWidth":0.7}},
     "color":{"field":"g","type":"nominal","scale":{"domain":["D","N","U"],"range":["#33968F","#C4C4C4","#8C1DA6"]},"legend":null}}},
   {"mark":{"type":"rule","color":"#a6a6a6","strokeWidth":1},"encoding":{"y":{"datum":1.301,"type":"quantitative","axis":{"orient":"left","title":"B","titleAngle":0,"titleX":1,"titleY":-39,"titleAlign":"left","titleBaseline":"alphabetic","titleFont":"Liberation Serif","titleFontSize":24,"titleFontWeight":"bold","titleColor":"black","labels":false,"ticks":false,"domain":false,"grid":false}}}},
   {"data":{"values":[]},"mark":{"type":"point"},"encoding":{"x":{"datum":1,"type":"quantitative","axis":{"orient":"top","title":["EPN_enriched vs","EPN_non-enriched"],"titleX":45,"titleY":-34.3,"titleAlign":"left","titleBaseline":"alphabetic","titleAngle":0,"titleFont":"Liberation Serif","titleFontSize":15,"titleFontWeight":"bold","titleColor":"black","titleLineHeight":17.6,"labels":false,"ticks":false,"domain":false,"grid":false}}}}
  ],
  "resolve":{"axis":{"x":"independent","y":"independent"}}}
 ]}
]},
{"width":1,"height":40.8,"data":{"values":[{}]},"mark":{"type":"point","opacity":0},"encoding":{}},
{"spacing":0,"hconcat":[
 {"width":1,"height":235,"data":{"values":[{}]},"mark":{"type":"point","opacity":0},"encoding":{}},
 {"spacing":21.4,"hconcat":[
 {"width":233,"height":235,"view":{"stroke":"#8c8c8c","strokeWidth":1.2},"data":{"name":"C"},
  "layer":[
   {"mark":{"type":"circle","size":13,"opacity":1},
    "encoding":{
     "x":{"field":"fc","type":"quantitative","scale":{"type":"log","domain":[0.00631,158.5],"nice":false},"axis":{"title":"fold change","titleFont":"Liberation Serif","titleFontSize":12,"titleFontWeight":"bold","titleColor":"black","titlePadding":9,"values":[0.007,0.008,0.009,0.01,0.02,0.03,0.04,0.05,0.06,0.07,0.08,0.09,0.1,0.2,0.3,0.4,0.5,0.6,0.7,0.8,0.9,1,2,3,4,5,6,7,8,9,10,20,30,40,50,60,70,80,90,100,150],"labelExpr":"datum.value == 0.01 ? '10⁻²' : datum.value == 0.1 ? '10⁻¹' : datum.value == 1 ? '10⁰' : datum.value == 10 ? '10¹' : datum.value == 100 ? '10²' : ''","labelFont":"Liberation Serif","labelFontSize":5,"labelColor":"#555555","labelPadding":3,"labelOverlap":false,"labelFlush":false,"tickSize":2,"tickColor":"#444444","tickOpacity":{"condition":{"test":"indexof([0.01,0.1,1,10,100], datum.value) >= 0","value":1},"value":0},"domain":false,"grid":true,"gridColor":{"condition":{"test":"indexof([0.01,0.1,1,10,100], datum.value) >= 0","value":"#e2e2e2"},"value":"#efefef"},"gridWidth":0.7}},
     "y":{"field":"y","type":"quantitative","scale":{"domain":[-5,105],"nice":false,"zero":false},"axis":{"title":"-log10(padj)","titleFont":"Liberation Serif","titleFontSize":12.5,"titleFontWeight":"bold","titleColor":"black","titlePadding":3,"values":[-2.5,0,2.5,5,7.5,10,12.5,15,17.5,20,22.5,25,27.5,30,32.5,35,37.5,40,42.5,45,47.5,50,52.5,55,57.5,60,62.5,65,67.5,70,72.5,75,77.5,80,82.5,85,87.5,90,92.5,95,97.5,100,102.5],"labelExpr":"datum.value % 25 == 0 ? datum.label : ''","labelFont":"Liberation Sans","labelFontSize":5,"labelColor":"#555555","labelPadding":2,"labelOverlap":false,"tickSize":2,"tickColor":"#444444","tickOpacity":{"condition":{"test":"datum.value % 25 == 0","value":1},"value":0},"domain":false,"grid":true,"gridColor":{"condition":{"test":"datum.value % 25 == 0","value":"#e2e2e2"},"value":"#efefef"},"gridWidth":0.7}},
     "color":{"field":"g","type":"nominal","scale":{"domain":["D","N","U"],"range":["#33968F","#C4C4C4","#8C1DA6"]},"legend":null}}},
   {"mark":{"type":"rule","color":"#a6a6a6","strokeWidth":1},"encoding":{"y":{"datum":1.301,"type":"quantitative","axis":{"orient":"left","title":"C","titleAngle":0,"titleX":-14,"titleY":-35,"titleAlign":"left","titleBaseline":"alphabetic","titleFont":"Liberation Serif","titleFontSize":24,"titleFontWeight":"bold","titleColor":"black","labels":false,"ticks":false,"domain":false,"grid":false}}}},
   {"data":{"values":[]},"mark":{"type":"point"},"encoding":{"x":{"datum":1,"type":"quantitative","axis":{"orient":"top","title":["Control_enriched vs","Control_non-enriched"],"titleX":45,"titleY":-34.3,"titleAlign":"left","titleBaseline":"alphabetic","titleAngle":0,"titleFont":"Liberation Serif","titleFontSize":15,"titleFontWeight":"bold","titleColor":"black","titleLineHeight":17.6,"labels":false,"ticks":false,"domain":false,"grid":false}}}}
  ],
  "resolve":{"axis":{"x":"independent","y":"independent"}}},
 {"width":236,"height":235,"view":{"stroke":"#8c8c8c","strokeWidth":1.2},"data":{"name":"D"},
  "layer":[
   {"mark":{"type":"circle","size":13,"opacity":1},
    "encoding":{
     "x":{"field":"fc","type":"quantitative","scale":{"type":"log","domain":[0.00631,158.5],"nice":false},"axis":{"title":"fold change","titleFont":"Liberation Serif","titleFontSize":12,"titleFontWeight":"bold","titleColor":"black","titlePadding":9,"values":[0.007,0.008,0.009,0.01,0.02,0.03,0.04,0.05,0.06,0.07,0.08,0.09,0.1,0.2,0.3,0.4,0.5,0.6,0.7,0.8,0.9,1,2,3,4,5,6,7,8,9,10,20,30,40,50,60,70,80,90,100,150],"labelExpr":"datum.value == 0.01 ? '10⁻²' : datum.value == 0.1 ? '10⁻¹' : datum.value == 1 ? '10⁰' : datum.value == 10 ? '10¹' : datum.value == 100 ? '10²' : ''","labelFont":"Liberation Serif","labelFontSize":5,"labelColor":"#555555","labelPadding":3,"labelOverlap":false,"labelFlush":false,"tickSize":2,"tickColor":"#444444","tickOpacity":{"condition":{"test":"indexof([0.01,0.1,1,10,100], datum.value) >= 0","value":1},"value":0},"domain":false,"grid":true,"gridColor":{"condition":{"test":"indexof([0.01,0.1,1,10,100], datum.value) >= 0","value":"#e2e2e2"},"value":"#efefef"},"gridWidth":0.7}},
     "y":{"field":"y","type":"quantitative","scale":{"domain":[-5,105],"nice":false,"zero":false},"axis":{"title":"-log10(padj)","titleFont":"Liberation Serif","titleFontSize":12.5,"titleFontWeight":"bold","titleColor":"black","titlePadding":3,"values":[-2.5,0,2.5,5,7.5,10,12.5,15,17.5,20,22.5,25,27.5,30,32.5,35,37.5,40,42.5,45,47.5,50,52.5,55,57.5,60,62.5,65,67.5,70,72.5,75,77.5,80,82.5,85,87.5,90,92.5,95,97.5,100,102.5],"labelExpr":"datum.value % 25 == 0 ? datum.label : ''","labelFont":"Liberation Sans","labelFontSize":5,"labelColor":"#555555","labelPadding":2,"labelOverlap":false,"tickSize":2,"tickColor":"#444444","tickOpacity":{"condition":{"test":"datum.value % 25 == 0","value":1},"value":0},"domain":false,"grid":true,"gridColor":{"condition":{"test":"datum.value % 25 == 0","value":"#e2e2e2"},"value":"#efefef"},"gridWidth":0.7}},
     "color":{"field":"g","type":"nominal","scale":{"domain":["D","N","U"],"range":["#33968F","#C4C4C4","#8C1DA6"]},"legend":null}}},
   {"mark":{"type":"rule","color":"#a6a6a6","strokeWidth":1},"encoding":{"y":{"datum":1.301,"type":"quantitative","axis":{"orient":"left","title":"D","titleAngle":0,"titleX":15,"titleY":-37,"titleAlign":"left","titleBaseline":"alphabetic","titleFont":"Liberation Serif","titleFontSize":24,"titleFontWeight":"bold","titleColor":"black","labels":false,"ticks":false,"domain":false,"grid":false}}}},
   {"data":{"values":[]},"mark":{"type":"point"},"encoding":{"x":{"datum":1,"type":"quantitative","axis":{"orient":"top","title":["EPN_enriched vs","Control_enriched"],"titleX":54,"titleY":-34.3,"titleAlign":"left","titleBaseline":"alphabetic","titleAngle":0,"titleFont":"Liberation Serif","titleFontSize":15,"titleFontWeight":"bold","titleColor":"black","titleLineHeight":17.6,"labels":false,"ticks":false,"domain":false,"grid":false}}}}
  ],
  "resolve":{"axis":{"x":"independent","y":"independent"}}}
 ]}
]},
{"width":1,"height":19,"data":{"values":[{}]},"mark":{"type":"point","opacity":0},"encoding":{}},
{"width":465.4,"height":20,
 "data":{"values":[{"lab":"Downregulated"},{"lab":"No change"},{"lab":"Upregulated"}]},
 "encoding":{"x":{"field":"lab","type":"nominal","scale":{"type":"point","padding":0.847,"domain":["Downregulated","No change","Upregulated"]},"axis":null}},
 "layer":[
  {"mark":{"type":"circle","size":55,"opacity":1},"encoding":{"color":{"field":"lab","type":"nominal","scale":{"domain":["Downregulated","No change","Upregulated"],"range":["#2E9E44","#D3D3D3","#9031B5"]},"legend":null}}},
  {"transform":[{"filter":"datum.lab != 'Upregulated'"}],"mark":{"type":"text","align":"left","dx":14,"dy":-1,"baseline":"middle","font":"Liberation Serif","fontSize":10.5,"fontWeight":"bold","color":"black"},"encoding":{"text":{"field":"lab"}}},
  {"transform":[{"filter":"datum.lab == 'Upregulated'"}],"mark":{"type":"text","align":"left","dx":12,"dy":-1,"baseline":"middle","font":"Liberation Sans","fontSize":10,"fontWeight":"bold","color":"black"},"encoding":{"text":{"field":"lab"}}}
 ]},
{"width":1,"height":15,"data":{"values":[{}]},"mark":{"type":"point","opacity":0},"encoding":{}},
{"title":{"text":"E","font":"Liberation Serif","fontSize":24,"fontWeight":"bold","anchor":"start","frame":"group","dx":-83,"dy":64,"offset":0,"baseline":"alphabetic","color":"black"},
 "spacing":0,
 "vconcat":[
  {"bounds":"flush","spacing":138,"hconcat":[
   {"width":137,"height":299,"data":{"values":[{}]},"mark":{"type":"point","opacity":0},"encoding":{}},
   {"width":315,"height":299,"data":{"name":"bars"},
    "encoding":{"x":{"field":"col","type":"nominal","scale":{"domain":["c1","c2","c3","c4","c5","c6","c7"],"paddingInner":0.41,"paddingOuter":0.71},"axis":{"title":null,"labels":false,"ticks":false,"domainColor":"#777777","domainWidth":1}}},
    "layer":[
     {"mark":{"type":"bar","color":"#3a3a3a"},"encoding":{"y":{"field":"n","type":"quantitative","scale":{"domain":[0,1710],"nice":false},"axis":{"values":[0,500,1000,1500],"format":"d","title":["Intersection","Size"],"titleFont":"Liberation Serif","titleFontSize":17,"titleFontWeight":"bold","titleColor":"black","titlePadding":32,"titleLineHeight":19,"titleY":137,"labelFont":"Liberation Serif","labelFontSize":14,"labelColor":"black","labelPadding":25,"labelBaseline":{"condition":{"test":"datum.value == 0","value":"bottom"},"value":"middle"},"tickSize":4,"tickColor":"#777777","domainColor":"#777777","grid":false}}}},
     {"mark":{"type":"text","font":"Liberation Serif","fontSize":14,"fontWeight":"bold","dy":-11,"baseline":"alphabetic","color":"black"},"encoding":{"y":{"field":"n","type":"quantitative"},"text":{"field":"n","type":"quantitative","format":"d"}}}
    ]}
  ]},
  {"bounds":"flush","spacing":138,"hconcat":[
   {"width":137,"height":97,"data":{"name":"sets"},"mark":{"type":"bar"},
    "encoding":{
     "y":{"field":"set","type":"nominal","scale":{"domain":["EPN.non.vs.Ctrl.non.DOWN","EPN.non.vs.Ctrl.non.UP","EPN.enr.vs.EPN.non.DOWN","EPN.enr.vs.EPN.non.UP"],"paddingInner":0.55,"paddingOuter":0.275},"axis":{"orient":"right","title":null,"ticks":false,"domain":false,"labelAlign":"center","labelPadding":73,"labelFont":"Liberation Sans","labelFontSize":11,"labelColor":"#333333","labelBaseline":"middle"}},
     "x":{"field":"size","type":"quantitative","scale":{"domain":[-96,2395],"reverse":true,"nice":false},"axis":{"values":[0,500,1000,1500,2000],"format":"d","title":"Set Size","titleFont":"Liberation Sans","titleFontSize":12,"titleFontWeight":"normal","titleColor":"#222222","titlePadding":1,"labelFont":"Liberation Sans","labelFontSize":9.5,"labelColor":"#555555","labelPadding":0,"tickSize":2,"tickColor":"#333333","domainColor":"#333333","grid":false}},
     "color":{"field":"set","type":"nominal","scale":{"domain":["EPN.non.vs.Ctrl.non.DOWN","EPN.non.vs.Ctrl.non.UP","EPN.enr.vs.EPN.non.DOWN","EPN.enr.vs.EPN.non.UP"],"range":["#3043A1","#E2342A","#3043A1","#E2342A"]},"legend":null}}},
   {"width":315,"height":97,
    "layer":[
     {"data":{"name":"sets"},"transform":[{"filter":{"field":"set","oneOf":["EPN.non.vs.Ctrl.non.UP","EPN.enr.vs.EPN.non.UP"]}}],"mark":{"type":"rect","color":"#f5f5f5"},"encoding":{"y":{"field":"set","type":"nominal","scale":{"domain":["EPN.non.vs.Ctrl.non.DOWN","EPN.non.vs.Ctrl.non.UP","EPN.enr.vs.EPN.non.DOWN","EPN.enr.vs.EPN.non.UP"],"paddingInner":0,"paddingOuter":0},"axis":null}}},
     {"data":{"name":"cells"},"mark":{"type":"circle","size":30,"opacity":1},"encoding":{
       "x":{"field":"col","type":"nominal","scale":{"domain":["c1","c2","c3","c4","c5","c6","c7"],"paddingInner":0.41,"paddingOuter":0.71},"axis":null},
       "y":{"field":"set","type":"nominal","scale":{"type":"point","padding":0.5,"domain":["EPN.non.vs.Ctrl.non.DOWN","EPN.non.vs.Ctrl.non.UP","EPN.enr.vs.EPN.non.DOWN","EPN.enr.vs.EPN.non.UP"]},"axis":null},
       "color":{"condition":{"test":"datum.in == 1","value":"#333333"},"value":"#e2e2e2"}}},
     {"data":{"name":"links"},"mark":{"type":"rule","color":"#333333","strokeWidth":2},"encoding":{
       "x":{"field":"col","type":"nominal","axis":null},
       "y":{"field":"a","type":"nominal","scale":{"type":"point","padding":0.5,"domain":["EPN.non.vs.Ctrl.non.DOWN","EPN.non.vs.Ctrl.non.UP","EPN.enr.vs.EPN.non.DOWN","EPN.enr.vs.EPN.non.UP"]},"axis":null},
       "y2":{"field":"b"}}},
     {"data":{"name":"cells"},"transform":[{"filter":"datum.in == 1"}],"mark":{"type":"circle","size":30,"opacity":1,"color":"#333333"},"encoding":{
       "x":{"field":"col","type":"nominal","axis":null},
       "y":{"field":"set","type":"nominal","scale":{"type":"point","padding":0.5,"domain":["EPN.non.vs.Ctrl.non.DOWN","EPN.non.vs.Ctrl.non.UP","EPN.enr.vs.EPN.non.DOWN","EPN.enr.vs.EPN.non.UP"]},"axis":null}}}
    ],
    "resolve":{"scale":{"y":"independent"}}}
  ]}
 ]}
]
}
